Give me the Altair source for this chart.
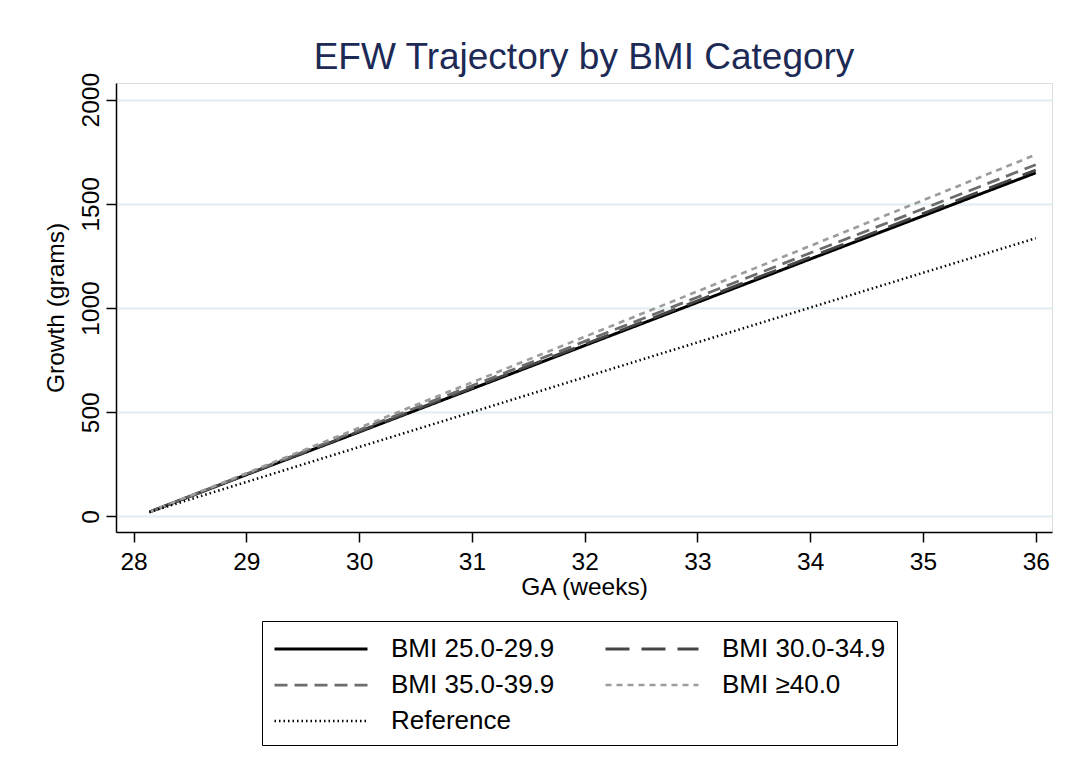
import altair as alt
import pandas as pd

ga = [28.14, 29, 30, 31, 32, 33, 34, 35, 36]
bmi_25 = [21, 200, 405, 612, 820, 1027, 1235, 1442, 1649]
bmi_30 = [21, 201, 408, 617, 826, 1035, 1244, 1453, 1662]
bmi_35 = [21, 203, 415, 627, 840, 1052, 1264, 1476, 1688]
bmi_40 = [21, 207, 425, 643, 862, 1080, 1298, 1517, 1736]
reference = [21, 165, 333, 500, 668, 835, 1002, 1169, 1335]

series_names = ["BMI 25.0-29.9", "BMI 30.0-34.9", "BMI 35.0-39.9", "BMI \u226540.0", "Reference"]
series_values = [bmi_25, bmi_30, bmi_35, bmi_40, reference]
series_colors = ["#000000", "#454545", "#6c6c6c", "#9c9c9c", "#000000"]
series_dashes = [[1, 0], [24, 12], [13, 7], [6, 5], [1.5, 3]]
series_widths = [3, 2.5, 2.5, 2.5, 1.8]
x_ticks = [28, 29, 30, 31, 32, 33, 34, 35, 36]
y_ticks = [0, 500, 1000, 1500, 2000]

rows = []
for name, vals in zip(series_names, series_values):
    for i, (g, v) in enumerate(zip(ga, vals)):
        rows.append({"GA": g, "Growth": v, "series": name, "order": i})
df = pd.DataFrame(rows)

FONT = "Liberation Sans"

legend = alt.Legend(
    title=None,
    orient="none",
    legendX=146,
    legendY=538,
    columns=2,
    columnPadding=44,
    rowPadding=6,
    padding=11,
    strokeColor="#000000",
    fillColor="#ffffff",
    labelFont=FONT,
    labelFontSize=26,
    labelColor="#000000",
    labelOffset=84,
    labelLimit=400,
    symbolType="M-1,0H5",
    symbolSize=961,
    direction="horizontal",
)

chart = alt.Chart(df).mark_line().encode(
    x=alt.X(
        "GA:Q",
        scale=alt.Scale(domain=[27.844, 36.144], nice=False, zero=False),
        axis=alt.Axis(
            title="GA (weeks)",
            values=x_ticks,
            format="d",
            grid=False,
            tickSize=10,
            tickColor="#000000",
            tickWidth=1.5,
            domainColor="#000000",
            domainWidth=1.5,
            labelFont=FONT,
            labelFontSize=24.5,
            labelColor="#000000",
            labelPadding=8,
            titleFont=FONT,
            titleFontSize=24.5,
            titleFontWeight="normal",
            titleColor="#000000",
            titlePadding=2,
        ),
    ),
    y=alt.Y(
        "Growth:Q",
        scale=alt.Scale(domain=[-75, 2080], nice=False, zero=False),
        axis=alt.Axis(
            title="Growth (grams)",
            values=y_ticks,
            format="d",
            grid=True,
            gridColor="#e6eff1",
            gridWidth=2.5,
            tickSize=10,
            tickColor="#000000",
            tickWidth=1.5,
            domainColor="#000000",
            domainWidth=1.5,
            labelFont=FONT,
            labelFontSize=24.5,
            labelColor="#000000",
            labelAngle=270,
            labelAlign="center",
            labelBaseline="alphabetic",
            labelPadding=8,
            titleFont=FONT,
            titleFontSize=24.5,
            titleFontWeight="normal",
            titleColor="#000000",
            titlePadding=10,
        ),
    ),
    color=alt.Color(
        "series:N",
        scale=alt.Scale(domain=series_names, range=series_colors),
        sort=series_names,
        legend=legend,
    ),
    strokeDash=alt.StrokeDash(
        "series:N",
        scale=alt.Scale(domain=series_names, range=series_dashes),
        sort=series_names,
        legend=legend,
    ),
    strokeWidth=alt.StrokeWidth(
        "series:N",
        scale=alt.Scale(domain=series_names, range=series_widths),
        sort=series_names,
        legend=legend,
    ),
    order="order:O",
).properties(
    width=936,
    height=449,
    title=alt.TitleParams(
        text="EFW Trajectory by BMI Category",
        font=FONT,
        fontSize=37,
        fontWeight="normal",
        color="#1c2a55",
        anchor="middle",
        offset=-5,
    ),
    autosize=alt.AutoSizeParams(type="none"),
    padding={"left": 116, "top": 83, "right": 18, "bottom": 244},
).configure_view(stroke=None).configure(background="#ffffff")

chart.save("out.html", embed_options={"renderer": "svg", "actions": False})
